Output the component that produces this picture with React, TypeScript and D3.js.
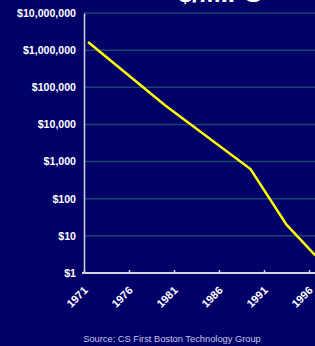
import React, { useEffect, useRef } from "react";
import { select, scaleLinear, scaleLog, line, axisLeft, axisBottom, format } from "d3";

const years = [1971.45, 1980, 1989.5, 1993.5, 1996.7];
const costPerMips = [1650000, 33000, 630, 20, 3];
const yTicks = [1, 10, 100, 1000, 10000, 100000, 1000000, 10000000];
const xTicks = [1971, 1976, 1981, 1986, 1991, 1996];
const title = "$/MIPS";
const source = "Source: CS First Boston Technology Group";

const W = 315;
const H = 346;

const App: React.FC = () => {
  const svgRef = useRef<SVGSVGElement>(null);

  useEffect(() => {
    if (!svgRef.current) return;
    const svg = select(svgRef.current);
    svg.selectAll("*").remove();

    const left = 84;
    const top = 13;
    const bottom = 273;

    const x = scaleLinear().domain([1971, 1996]).range([left, 309]);
    const y = scaleLog().domain([1, 10000000]).range([bottom, top]);

    svg.append("rect").attr("width", W).attr("height", H).attr("fill", "#000068");

    svg
      .append("text")
      .attr("x", 178)
      .attr("y", 1.5)
      .attr("fill", "#ffffff")
      .style("font-family", "Liberation Sans, Arial, sans-serif")
      .style("font-weight", "bold")
      .style("font-size", "25.6px")
      .text(title);

    // grid
    svg
      .append("g")
      .selectAll("line")
      .data(yTicks.slice(1))
      .enter()
      .append("line")
      .attr("x1", left)
      .attr("x2", W)
      .attr("y1", (d) => y(d))
      .attr("y2", (d) => y(d))
      .attr("stroke", "#1a4470")
      .attr("stroke-width", 1.5);

    const fmt = format(",");
    const yAxis = svg
      .append("g")
      .attr("transform", `translate(${left},0)`)
      .call(
        axisLeft(y)
          .tickValues(yTicks)
          .tickSize(0)
          .tickPadding(8)
          .tickFormat((d) => "$" + fmt(d as number))
      );
    yAxis.select(".domain").attr("stroke", "#d4d4dc").attr("stroke-width", 1.5);
    yAxis
      .selectAll("text")
      .attr("fill", "#ffffff")
      .style("font-family", "Liberation Sans, Arial, sans-serif")
      .style("font-weight", "bold")
      .style("font-size", "10.6px");

    const xAxis = svg
      .append("g")
      .attr("transform", `translate(0,${bottom})`)
      .call(axisBottom(x).tickValues(xTicks).tickSize(-3).tickSizeOuter(0).tickFormat((d) => String(d)));
    xAxis
      .select(".domain")
      .attr("d", `M${left - 2},0H${W}`)
      .attr("stroke", "#d4d4dc")
      .attr("stroke-width", 2);
    xAxis.selectAll(".tick line").attr("stroke", "#d4d4dc").attr("stroke-width", 1.5);
    xAxis
      .selectAll("text")
      .attr("fill", "#ffffff")
      .attr("y", 0)
      .attr("dy", 0)
      .attr("transform", "translate(4,18) rotate(-45)")
      .style("text-anchor", "end")
      .style("font-family", "Liberation Sans, Arial, sans-serif")
      .style("font-weight", "bold")
      .style("font-size", "11px");

    const pts = years.map((yr, i) => [yr, costPerMips[i]] as [number, number]);
    svg
      .append("path")
      .datum(pts)
      .attr("fill", "none")
      .attr("stroke", "#ffff00")
      .attr("stroke-width", 2.5)
      .attr("d", line<[number, number]>().x((d) => x(d[0])).y((d) => y(d[1])));

    svg
      .append("text")
      .attr("x", 172)
      .attr("y", 342)
      .attr("text-anchor", "middle")
      .attr("fill", "#c8c8e4")
      .style("font-family", "Liberation Sans, Arial, sans-serif")
      .style("font-size", "9.3px")
      .text(source);
  }, []);

  return (
    <svg
      ref={svgRef}
      width={W}
      height={H}
      style={{ position: "absolute", left: 0, top: 0, display: "block" }}
    />
  );
};

export default App;
